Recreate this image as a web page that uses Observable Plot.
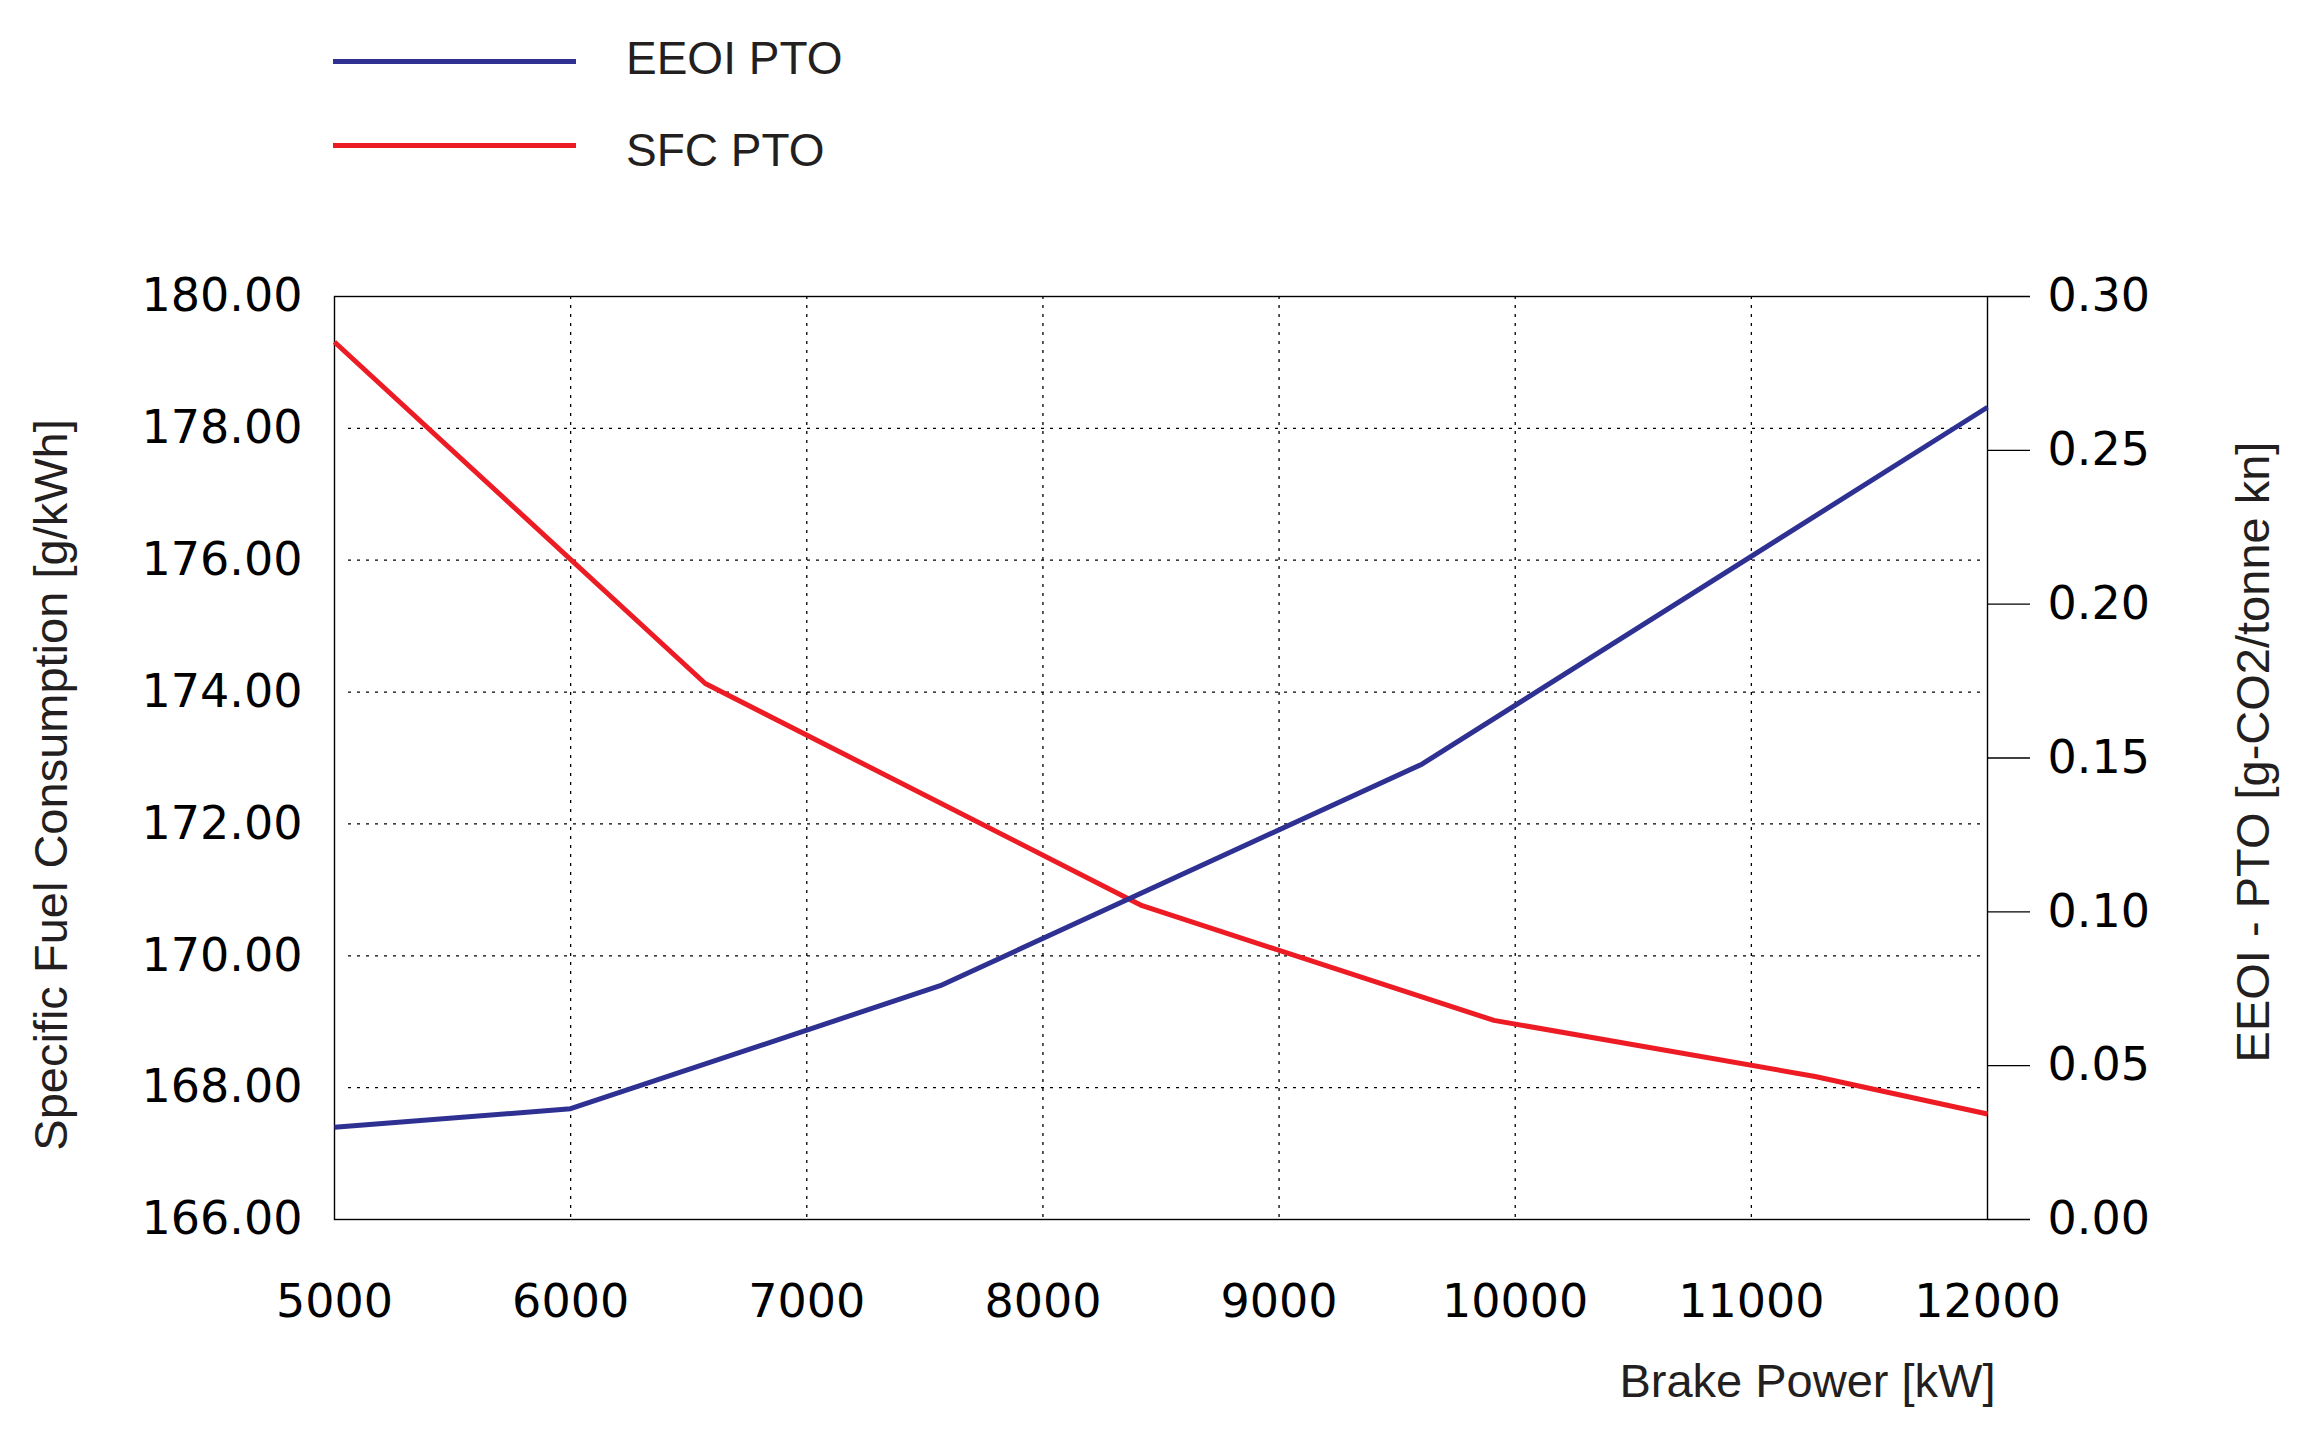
<!DOCTYPE html>
<html>
<head>
<meta charset="utf-8">
<script src="https://cdn.jsdelivr.net/npm/d3@7"></script>
<script src="https://cdn.jsdelivr.net/npm/@observablehq/plot@0.6"></script>
<style>
  html, body { margin: 0; padding: 0; background: #fff; }
  #legend { position: relative; width: 2309px; height: 200px; }
  .lg-line { position: absolute; left: 333px; width: 243px; height: 5px; }
  .lg-text { position: absolute; left: 626px; font-family: "Liberation Sans", Arial, sans-serif;
             font-size: 46px; line-height: 46px; color: #231f20; white-space: nowrap; }
</style>
</head>
<body>
<div id="legend"></div>
<div id="chart"></div>
<script>
// ---- data ----
const sfcPower  = [5000, 6570, 8420, 9910, 11270, 12000];
const sfcValues = [179.31, 174.13, 170.76, 169.02, 168.17, 167.60];

const eeoiPower  = [5000, 6000, 7565, 9605, 12000];
const eeoiValues = [0.030, 0.036, 0.076, 0.148, 0.264];

const xTicks     = [5000, 6000, 7000, 8000, 9000, 10000, 11000, 12000];
const leftTicks  = [166, 168, 170, 172, 174, 176, 178, 180];
const rightTicks = [0, 0.05, 0.10, 0.15, 0.20, 0.25, 0.30];

const seriesNames  = ["EEOI PTO", "SFC PTO"];
const seriesColors = ["#2e3192", "#ed1c24"];

const xTitle     = "Brake Power [kW]";
const leftTitle  = "Specific Fuel Consumption [g/kWh]";
const rightTitle = "EEOI - PTO [g-CO2/tonne kn]";

// ---- dual axis mapping (right axis onto left scale) ----
const L0 = 166, L1 = 180, R0 = 0, R1 = 0.30;
const toLeft   = v => L0 + (v - R0) * (L1 - L0) / (R1 - R0);
const fromLeft = y => R0 + (y - L0) * (R1 - R0) / (L1 - L0);

const sfc  = sfcPower.map((p, i) => ({p, v: sfcValues[i]}));
const eeoi = eeoiPower.map((p, i) => ({p, v: eeoiValues[i]}));

const xGrid = xTicks.slice(1, -1);
const yGrid = leftTicks.slice(1, -1);

// ---- legend (HTML, above the SVG) ----
const legend = document.getElementById("legend");
const lineTops = [58.5, 142.5];
const textTops = [35, 127];
seriesNames.forEach((name, i) => {
  const ln = document.createElement("div");
  ln.className = "lg-line";
  ln.style.top = lineTops[i] + "px";
  ln.style.background = seriesColors[i];
  legend.appendChild(ln);
  const tx = document.createElement("div");
  tx.className = "lg-text";
  tx.style.top = textTops[i] + "px";
  tx.textContent = name;
  legend.appendChild(tx);
});

// ---- chart ----
const titleStyle = {fontFamily: "Liberation Sans", fontSize: 47, fill: "#231f20"};
const chart = Plot.plot({
  width: 2309,
  height: 1231,
  marginTop: 96,
  marginBottom: 212,
  marginLeft: 334,
  marginRight: 322,
  style: {fontFamily: "DejaVu Sans", fontSize: "46px", color: "black", background: "white", overflow: "visible"},
  x: {domain: [5000, 12000]},
  y: {domain: [L0, L1]},
  marks: [
    Plot.ruleY(yGrid, {stroke: "black", strokeWidth: 1.3, strokeDasharray: "3,6", insetLeft: 14, insetRight: 6}),
    Plot.ruleX(xGrid, {stroke: "black", strokeWidth: 1.3, strokeDasharray: "3,6"}),
    Plot.frame({stroke: "black", strokeWidth: 1.4}),
    Plot.axisX({ticks: xTicks, tickSize: 0, tickPadding: 65, tickFormat: d => String(d),
                fontSize: 46, fill: "black", label: null}),
    Plot.axisY({ticks: leftTicks, tickSize: 0, tickPadding: 32, tickFormat: d => d.toFixed(2),
                fontSize: 46, fill: "black", label: null}),
    Plot.axisY({anchor: "right", ticks: rightTicks.map(toLeft), tickSize: 42, tickPadding: 18,
                tickFormat: d => fromLeft(d).toFixed(2), fontSize: 46, fill: "black",
                stroke: "black", strokeWidth: 1.3, label: null}),
    Plot.line(sfc,  {x: "p", y: "v", stroke: seriesColors[1], strokeWidth: 5, strokeLinecap: "butt"}),
    Plot.line(eeoi, {x: "p", y: d => toLeft(d.v), stroke: seriesColors[0], strokeWidth: 5, strokeLinecap: "butt"}),
    Plot.text([xTitle], {text: d => d, frameAnchor: "bottom-right", textAnchor: "end", lineAnchor: "bottom",
                         dx: 8, dy: 177, ...titleStyle}),
    Plot.text([leftTitle], {text: d => d, frameAnchor: "left", textAnchor: "middle", lineAnchor: "middle",
                            rotate: -90, dx: -283, dy: 27, ...titleStyle}),
    Plot.text([rightTitle], {text: d => d, frameAnchor: "right", textAnchor: "middle", lineAnchor: "middle",
                             rotate: -90, dx: 266, dy: -6, ...titleStyle})
  ]
});
document.getElementById("chart").appendChild(chart);
</script>
</body>
</html>
